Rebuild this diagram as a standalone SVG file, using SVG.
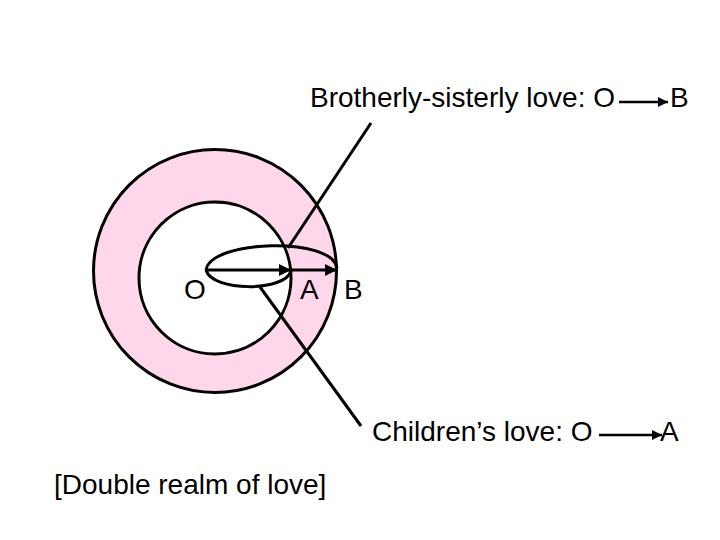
<svg xmlns="http://www.w3.org/2000/svg" width="720" height="540" viewBox="0 0 720 540">
  <style>
    .t { font-family: "Liberation Sans", Arial, sans-serif; font-size: 28px; fill: #000; }
    .ln { stroke: #000; stroke-width: 3; fill: none; }
    .thin { stroke: #000; stroke-width: 2.5; fill: none; }
    .ring { stroke: #000; stroke-width: 3; fill: #FFD7EA; }
    .hole { stroke: #000; stroke-width: 3; fill: #FFFFFF; }
  </style>
  <defs>
    <marker id="ah" viewBox="0 0 10 10" refX="10" refY="5" markerWidth="4" markerHeight="4" markerUnits="strokeWidth" orient="auto">
      <path d="M0,0 L10,5 L0,10 z" fill="#000"/>
    </marker>
  </defs>
  <rect width="720" height="540" fill="#fff"/>

  <g id="outer-circle">
    <circle cx="215" cy="271" r="121.5" class="ring"/>
  </g>
  <g id="inner-circle">
    <circle cx="215" cy="278" r="76" class="hole"/>
  </g>

  <g id="label-O"><text class="t" x="184" y="299">O</text></g>
  <g id="label-A"><text class="t" x="300" y="299">A</text></g>
  <g id="label-B"><text class="t" x="344" y="299">B</text></g>

  <g id="brotherly-label">
    <text class="t" x="310" y="107">Brotherly-sisterly love: O</text>
    <text class="t" x="670" y="107">B</text>
  </g>
  <g id="children-label">
    <text class="t" x="372" y="441">Children’s love: O</text>
    <text class="t" x="660" y="441">A</text>
  </g>
  <g id="caption">
    <text class="t" x="54" y="494">[Double realm of love]</text>
  </g>

  <g id="connectors">
    <line class="ln" x1="206" y1="270" x2="291" y2="270" marker-end="url(#ah)"/>
    <line class="ln" x1="291" y1="270" x2="337" y2="270" marker-end="url(#ah)"/>
    <path class="ln" d="M206,270 C210,240 332,236 337,268"/>
    <path class="ln" d="M206,270 C212,292 285,292 291,271"/>
    <line class="ln" x1="371" y1="123" x2="288" y2="248"/>
    <line class="ln" x1="260" y1="287" x2="361" y2="426"/>
    <line class="thin" x1="619" y1="102" x2="668" y2="102" marker-end="url(#ah)"/>
    <line class="thin" x1="599" y1="435" x2="662" y2="435" marker-end="url(#ah)"/>
  </g>
</svg>
